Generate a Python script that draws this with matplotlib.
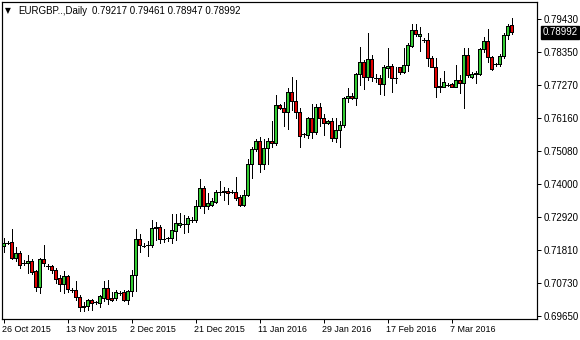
import matplotlib
matplotlib.use("Agg")
import matplotlib.pyplot as plt
import matplotlib.transforms as transforms
import numpy as np

plt.rcParams["font.family"] = ["Liberation Sans", "DejaVu Sans"]

W, H = 580, 340

SYMBOL = "EURGBP..,Daily"
HEADER_VALUES = "0.79217 0.79461 0.78947 0.78992"
LAST_PRICE = 0.78992

DATE_LABELS = ["26 Oct 2015", "13 Nov 2015", "2 Dec 2015", "21 Dec 2015",
               "11 Jan 2016", "29 Jan 2016", "17 Feb 2016", "7 Mar 2016"]
DATE_BARS = [0, 16, 32, 48, 64, 80, 96, 112]

PRICE_TICKS = [0.79430, 0.78350, 0.77270, 0.76160, 0.75080,
               0.74000, 0.72920, 0.71810, 0.70730, 0.69650]

opens = [
    0.71939, 0.72070, 0.72093, 0.71557, 0.71721, 0.71392, 0.71392, 0.71458, 0.71116, 0.70590,
    0.71524, 0.71281, 0.71281, 0.71149, 0.70899, 0.70702, 0.70975, 0.70491, 0.70491, 0.70274,
    0.69988, 0.69988, 0.70162, 0.70096, 0.70076, 0.70251, 0.70570, 0.70241, 0.70241, 0.70415,
    0.70438, 0.70185, 0.70458, 0.71007, 0.72182, 0.71962, 0.71994, 0.71994, 0.72544, 0.72577,
    0.72192, 0.72208, 0.72215, 0.72465, 0.72652, 0.72676, 0.72676, 0.72817, 0.72817, 0.73287,
    0.73860, 0.73287, 0.73310, 0.73419, 0.73748, 0.73728, 0.73771, 0.73748, 0.73728, 0.73584,
    0.73310, 0.73639, 0.74659, 0.75143, 0.75426, 0.74659, 0.75176, 0.75426, 0.75340, 0.76600,
    0.76492, 0.76380, 0.77018, 0.76742, 0.76380, 0.75637, 0.75613, 0.76163, 0.75702, 0.76518,
    0.76163, 0.75998, 0.76074, 0.75505, 0.75778, 0.75942, 0.76821, 0.76897, 0.76821, 0.77611,
    0.78005, 0.77532, 0.78114, 0.77499, 0.77479, 0.77282, 0.77828, 0.77884, 0.77499, 0.77841,
    0.77696, 0.77916, 0.78551, 0.79068, 0.78880, 0.78739, 0.78739, 0.78137, 0.77861, 0.77226,
    0.77203, 0.77258, 0.77282, 0.77203, 0.77423, 0.77334, 0.78245, 0.77512, 0.77611, 0.77620,
    0.78433, 0.78706, 0.78170, 0.77940, 0.77940, 0.78213, 0.78903, 0.79217,
]
highs = [
    0.72215, 0.72136, 0.72511, 0.71919, 0.71807, 0.71478, 0.71656, 0.71524, 0.71172, 0.71557,
    0.71994, 0.71360, 0.71336, 0.71228, 0.71007, 0.71116, 0.71007, 0.70570, 0.70810, 0.70349,
    0.70096, 0.70208, 0.70208, 0.70142, 0.70349, 0.70810, 0.70820, 0.70438, 0.70514, 0.70458,
    0.70514, 0.70514, 0.71149, 0.72521, 0.72356, 0.72050, 0.72126, 0.72817, 0.72761, 0.72652,
    0.72521, 0.72268, 0.73014, 0.73014, 0.73037, 0.72981, 0.72949, 0.72906, 0.73475, 0.74156,
    0.73936, 0.73695, 0.73531, 0.73804, 0.74100, 0.73913, 0.73860, 0.73804, 0.74242, 0.73639,
    0.73804, 0.74824, 0.75229, 0.75472, 0.75558, 0.75482, 0.75505, 0.76074, 0.76929, 0.76624,
    0.76709, 0.77150, 0.77532, 0.77423, 0.76492, 0.75689, 0.76216, 0.76624, 0.76624, 0.76656,
    0.76295, 0.76097, 0.76183, 0.76183, 0.76074, 0.76874, 0.77150, 0.76985, 0.77643, 0.78499,
    0.78081, 0.78959, 0.78245, 0.77611, 0.77587, 0.77916, 0.78466, 0.77940, 0.77861, 0.77861,
    0.78466, 0.78630, 0.79256, 0.79256, 0.79177, 0.78821, 0.78979, 0.78213, 0.78137, 0.77479,
    0.77719, 0.77314, 0.77314, 0.77916, 0.77587, 0.78466, 0.78466, 0.77696, 0.77719, 0.78466,
    0.78848, 0.79101, 0.78213, 0.77972, 0.78278, 0.78959, 0.79265, 0.79461,
]
lows = [
    0.71774, 0.72027, 0.71524, 0.71445, 0.71228, 0.71336, 0.71063, 0.71040, 0.70481, 0.70405,
    0.71281, 0.71205, 0.71063, 0.70734, 0.70458, 0.70405, 0.70425, 0.70425, 0.70185, 0.69800,
    0.69800, 0.69833, 0.69856, 0.70053, 0.69945, 0.70129, 0.70053, 0.70129, 0.70162, 0.70349,
    0.70129, 0.70053, 0.70294, 0.70458, 0.71774, 0.71919, 0.71642, 0.71919, 0.72159, 0.72050,
    0.72083, 0.72126, 0.72050, 0.72159, 0.72577, 0.72379, 0.72412, 0.72761, 0.72761, 0.73202,
    0.73057, 0.73179, 0.73287, 0.73366, 0.73639, 0.73475, 0.73334, 0.73695, 0.73475, 0.73278,
    0.73278, 0.73607, 0.74189, 0.75097, 0.74406, 0.74495, 0.74650, 0.75229, 0.75284, 0.76469,
    0.75919, 0.75811, 0.76436, 0.76163, 0.75229, 0.75558, 0.75505, 0.75505, 0.75637, 0.75910,
    0.75613, 0.75975, 0.75416, 0.75393, 0.75229, 0.75887, 0.76689, 0.76798, 0.76600, 0.77258,
    0.77127, 0.77423, 0.77400, 0.77367, 0.76953, 0.76929, 0.77512, 0.77038, 0.77314, 0.77620,
    0.77643, 0.77729, 0.78519, 0.78880, 0.78387, 0.78663, 0.77884, 0.77841, 0.76874, 0.77038,
    0.77183, 0.77226, 0.77183, 0.77183, 0.76985, 0.76492, 0.77532, 0.77479, 0.77334, 0.77587,
    0.78354, 0.78025, 0.77752, 0.77893, 0.77884, 0.78137, 0.78762, 0.78947,
]
closes = [
    0.72070, 0.72070, 0.71557, 0.71721, 0.71336, 0.71392, 0.71458, 0.71083, 0.70590, 0.71524,
    0.71392, 0.71281, 0.71149, 0.70876, 0.70702, 0.70975, 0.70537, 0.70491, 0.70274, 0.69945,
    0.69945, 0.70162, 0.70076, 0.70096, 0.70294, 0.70570, 0.70208, 0.70185, 0.70438, 0.70415,
    0.70185, 0.70471, 0.71007, 0.72182, 0.71994, 0.71962, 0.71994, 0.72544, 0.72597, 0.72182,
    0.72192, 0.72208, 0.72488, 0.72708, 0.72708, 0.72676, 0.72873, 0.72817, 0.73287, 0.73860,
    0.73287, 0.73366, 0.73442, 0.73748, 0.73748, 0.73771, 0.73695, 0.73748, 0.73551, 0.73310,
    0.73639, 0.74659, 0.75143, 0.75426, 0.74659, 0.75176, 0.75426, 0.75340, 0.76600, 0.76492,
    0.76380, 0.77018, 0.76742, 0.76380, 0.75590, 0.75637, 0.76163, 0.75702, 0.76525, 0.76163,
    0.75998, 0.76074, 0.75505, 0.75778, 0.75942, 0.76821, 0.76897, 0.76821, 0.77611, 0.78005,
    0.77532, 0.78114, 0.77532, 0.77499, 0.77282, 0.77841, 0.77884, 0.77479, 0.77499, 0.77696,
    0.77916, 0.78574, 0.79068, 0.78927, 0.78927, 0.78739, 0.78137, 0.77861, 0.77183, 0.77183,
    0.77347, 0.77258, 0.77203, 0.77423, 0.77334, 0.78245, 0.77587, 0.77620, 0.77663, 0.78433,
    0.78706, 0.78170, 0.77785, 0.77940, 0.78213, 0.78903, 0.79200, 0.78992,
]

BULL = "#33cc33"
BEAR = "#e00000"
PX = 0.72  # one pixel in points at dpi 100

o = np.array(opens)
h = np.array(highs)
l = np.array(lows)
c = np.array(closes)
x = np.arange(len(o))

YLIM = (0.69568, 0.79990)
fig = plt.figure(figsize=(W / 100, H / 100), dpi=100)
# plot frame in pixels: left 2, right 536.5, top 2, bottom 318.5
ax = fig.add_axes([2 / W, 1 - 318.5 / H, 534.5 / W, 316.5 / H])

ax.vlines(x, l, h, color="black", lw=PX, zorder=2, antialiased=False)
up = c >= o
ax.bar(x[up], c[up] - o[up], bottom=o[up], width=0.58, color=BULL,
       edgecolor="black", lw=PX, zorder=3, antialiased=False)
ax.bar(x[~up], c[~up] - o[~up], bottom=o[~up], width=0.58, color=BEAR,
       edgecolor="black", lw=PX, zorder=3, antialiased=False)

# 4 px per bar; bar centres fall on pixel centres
ax.set_xlim(-0.375, 133.25)
ax.set_ylim(*YLIM)

for s in ax.spines.values():
    s.set_linewidth(PX * 1.2)

ax.yaxis.tick_right()
ax.set_yticks(PRICE_TICKS)
ax.set_yticklabels(["%.5f" % p for p in PRICE_TICKS])
ax.tick_params(axis="y", direction="out", length=3, width=PX, pad=2, labelsize=7)

ax.set_xticks(DATE_BARS)
ax.set_xticklabels(DATE_LABELS, ha="left")
ax.tick_params(axis="x", direction="out", length=3, width=PX, pad=2, labelsize=6.4)
shift = transforms.ScaledTranslation(-2 / 100, 0, fig.dpi_scale_trans)
for lab in ax.xaxis.get_majorticklabels():
    lab.set_transform(lab.get_transform() + shift)

# current price marker
ax.text(1.0 + 6 / 534.5, LAST_PRICE, "%.5f" % LAST_PRICE,
        transform=ax.get_yaxis_transform(), color="white", fontsize=7,
        va="center", ha="left", clip_on=False,
        bbox=dict(boxstyle="square,pad=0.18", fc="black", ec="black"))

# header
fig.text(5 / W, 1 - 10.5 / H, "\u25bc", fontsize=5.5, va="center", ha="left",
         family=["DejaVu Sans"])
fig.text(18 / W, 1 - 10.5 / H, SYMBOL, fontsize=7, va="center", ha="left")
fig.text(92 / W, 1 - 10.5 / H, HEADER_VALUES, fontsize=7, va="center", ha="left")

fig.savefig("out.png", dpi=100)
